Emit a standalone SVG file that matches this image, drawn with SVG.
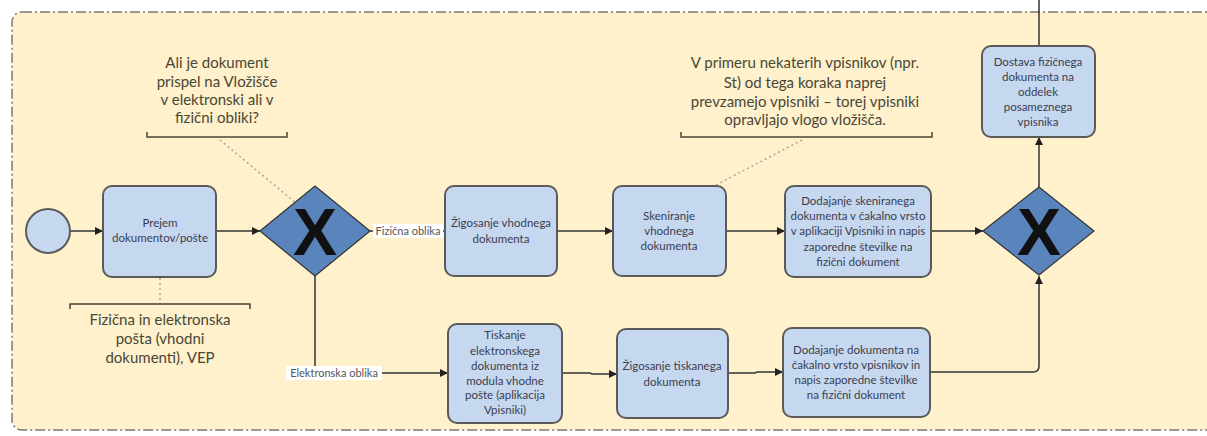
<svg xmlns="http://www.w3.org/2000/svg" width="1207" height="436" viewBox="0 0 1207 436">
<style>
.task{fill:#C6D8F0;stroke:#5a5a5a;stroke-width:2}
.gw{fill:#5A84BC;stroke:#333;stroke-width:1.2}
.x{font-family:"Liberation Sans",Arial,sans-serif;font-weight:bold;font-size:66px;fill:#111;text-anchor:middle}
.t{font-family:Lato,"Liberation Sans",sans-serif;font-size:11.5px;fill:#3a3d4e;text-anchor:middle}
.a{font-family:Lato,"Liberation Sans",sans-serif;font-size:15px;fill:#4a4636;text-anchor:middle}
.lbl{font-family:Lato,"Liberation Sans",sans-serif;font-size:11px;fill:#555;text-anchor:middle}
.c{fill:none;stroke:#333;stroke-width:1.5}
.dot{fill:none;stroke:#aaa597;stroke-width:1.5;stroke-dasharray:2 3}
.br{fill:none;stroke:#4a4636;stroke-width:1.5}
</style>
<defs>
<marker id="ah" viewBox="0 0 8 8" refX="8" refY="4" markerWidth="8" markerHeight="8" markerUnits="userSpaceOnUse" orient="auto">
<path d="M0,0 L8,4 L0,8 z" fill="#222"/>
</marker>
</defs>
<rect width="1207" height="436" fill="#fff"/>
<rect id="pool" x="12" y="12" width="1230" height="418" rx="10" fill="#FEF1CC" stroke="#7a7a72" stroke-width="1.5" stroke-dasharray="10 3 2 3"/>

<g id="connectors">
<line class="c" x1="70" y1="231" x2="103" y2="231" marker-end="url(#ah)"/>
<line class="c" x1="216" y1="231" x2="260" y2="231" marker-end="url(#ah)"/>
<line class="c" x1="370" y1="231" x2="445" y2="231"/>
<path class="c" d="M315,276 V373 H448" marker-end="url(#ah)"/>
<line class="c" x1="557" y1="231" x2="613" y2="231" marker-end="url(#ah)"/>
<line class="c" x1="726" y1="231" x2="785" y2="231" marker-end="url(#ah)"/>
<line class="c" x1="931" y1="231" x2="983" y2="231" marker-end="url(#ah)"/>
<path class="c" d="M562,373 H590 L592,374 H617" marker-end="url(#ah)"/>
<path class="c" d="M728,373 H755 L757,372 H783" marker-end="url(#ah)"/>
<path class="c" d="M930,372 H1033 Q1039,372 1039,366 V276" marker-end="url(#ah)"/>
<line class="c" x1="1039" y1="187" x2="1039" y2="137" marker-end="url(#ah)"/>
<line class="c" x1="1039" y1="46" x2="1039" y2="0"/>
<line class="dot" x1="220" y1="140" x2="296" y2="203"/>
<line class="dot" x1="160" y1="278" x2="160" y2="304"/>
<line class="dot" x1="802" y1="140" x2="716" y2="185"/>
<g>
<rect x="373" y="224" width="70" height="14" fill="#fff"/>
<text class="lbl" x="408" y="235">Fizična oblika</text>
<rect x="286" y="366" width="96" height="14" fill="#fff"/>
<text class="lbl" x="334" y="377">Elektronska oblika</text>
</g>
</g>

<g id="start"><circle cx="48" cy="231" r="22" fill="#C6D8F0" stroke="#5a5a5a" stroke-width="2"/></g>

<g id="prejem">
<rect class="task" x="103" y="186" width="113" height="91" rx="9"/>
<text class="t" x="160" y="227">Prejem</text>
<text class="t" x="160" y="242">dokumentov/pošte</text>
</g>

<g id="gateway1">
<polygon class="gw" points="260,231 315,186 370,231 315,276"/>
<text class="x" x="315" y="255">X</text>
</g>

<g id="zigosanje-vhodnega">
<rect class="task" x="445" y="186" width="112" height="90" rx="9"/>
<text class="t" x="501" y="227">Žigosanje vhodnega</text>
<text class="t" x="501" y="243">dokumenta</text>
</g>

<g id="skeniranje">
<rect class="task" x="613" y="186" width="113" height="90" rx="9"/>
<text class="t" x="669" y="220">Skeniranje</text>
<text class="t" x="669" y="235">vhodnega</text>
<text class="t" x="669" y="250">dokumenta</text>
</g>

<g id="dodajanje-skeniranega">
<rect class="task" x="785" y="186" width="146" height="91" rx="9"/>
<text class="t" x="858" y="205">Dodajanje skeniranega</text>
<text class="t" x="858" y="220">dokumenta v čakalno vrsto</text>
<text class="t" x="858" y="235">v aplikaciji Vpisniki in napis</text>
<text class="t" x="858" y="251">zaporedne številke na</text>
<text class="t" x="858" y="266">fizični dokument</text>
</g>

<g id="gateway2">
<polygon class="gw" points="983,231 1039,187 1094,231 1039,275"/>
<text class="x" x="1039" y="255">X</text>
</g>

<g id="dostava">
<rect class="task" x="982" y="46" width="113" height="91" rx="9"/>
<text class="t" x="1038" y="66">Dostava fizičnega</text>
<text class="t" x="1038" y="81">dokumenta na</text>
<text class="t" x="1038" y="96">oddelek</text>
<text class="t" x="1038" y="111">posameznega</text>
<text class="t" x="1038" y="126">vpisnika</text>
</g>

<g id="tiskanje">
<rect class="task" x="448" y="324" width="114" height="99" rx="9"/>
<text class="t" x="505" y="339">Tiskanje</text>
<text class="t" x="505" y="355">elektronskega</text>
<text class="t" x="505" y="370">dokumenta iz</text>
<text class="t" x="505" y="385">modula vhodne</text>
<text class="t" x="505" y="399">pošte (aplikacija</text>
<text class="t" x="505" y="414">Vpisniki)</text>
</g>

<g id="zigosanje-tiskanega">
<rect class="task" x="617" y="329" width="111" height="89" rx="9"/>
<text class="t" x="672" y="370">Žigosanje tiskanega</text>
<text class="t" x="672" y="386">dokumenta</text>
</g>

<g id="dodajanje-dokumenta">
<rect class="task" x="783" y="328" width="147" height="89" rx="9"/>
<text class="t" x="856" y="354">Dodajanje dokumenta na</text>
<text class="t" x="856" y="369">čakalno vrsto vpisnikov in</text>
<text class="t" x="856" y="384">napis zaporedne številke</text>
<text class="t" x="856" y="399">na fizični dokument</text>
</g>

<g id="annotation1">
<path class="br" d="M147,132 V137 H287 V132"/>
<text class="a" x="217" y="68">Ali je dokument</text>
<text class="a" x="217" y="87">prispel na Vložišče</text>
<text class="a" x="217" y="105">v elektronski ali v</text>
<text class="a" x="217" y="123">fizični obliki?</text>
</g>

<g id="annotation2">
<path class="br" d="M70,309 V304 H250 V309"/>
<text class="a" x="160" y="325">Fizična in elektronska</text>
<text class="a" x="160" y="344">pošta (vhodni</text>
<text class="a" x="160" y="363">dokumenti), VEP</text>
</g>

<g id="annotation3">
<path class="br" d="M681,132 V137 H932 V132"/>
<text class="a" x="805" y="68">V primeru nekaterih vpisnikov (npr.</text>
<text class="a" x="805" y="88">St) od tega koraka naprej</text>
<text class="a" x="805" y="107">prevzamejo vpisniki – torej vpisniki</text>
<text class="a" x="805" y="125">opravljajo vlogo vložišča.</text>
</g>
</svg>
